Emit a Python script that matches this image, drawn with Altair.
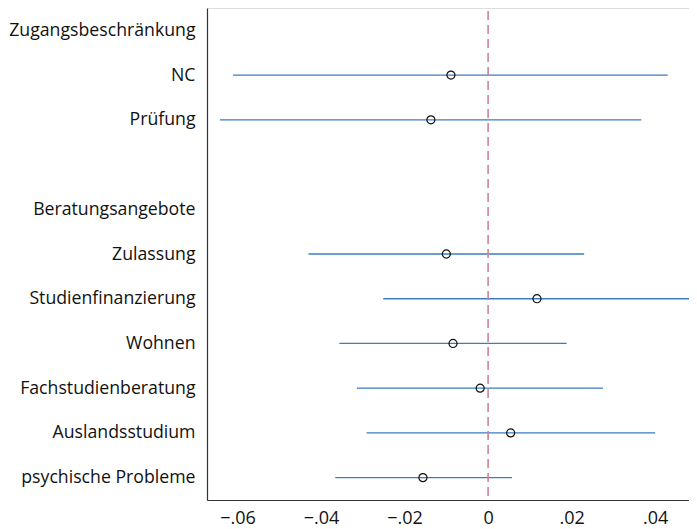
import altair as alt
import pandas as pd

categories = ["Zugangsbeschränkung", "NC", "Prüfung", " ", "Beratungsangebote",
              "Zulassung", "Studienfinanzierung", "Wohnen", "Fachstudienberatung",
              "Auslandsstudium", "psychische Probleme"]

coef_labels = ["NC", "Prüfung", "Zulassung", "Studienfinanzierung", "Wohnen",
               "Fachstudienberatung", "Auslandsstudium", "psychische Probleme"]
estimates = [-0.0089, -0.0137, -0.0100, 0.0117, -0.0084, -0.0019, 0.0054, -0.0156]
ci_low = [-0.0611, -0.0642, -0.0430, -0.0251, -0.0356, -0.0314, -0.0291, -0.0366]
ci_high = [0.0430, 0.0367, 0.0230, 0.0486, 0.0188, 0.0275, 0.0400, 0.0057]

x_ticks = [-0.06, -0.04, -0.02, 0, 0.02, 0.04]

df = pd.DataFrame({"label": coef_labels, "est": estimates, "lo": ci_low, "hi": ci_high})
hdr = pd.DataFrame({"label": categories})

FONT = "Open Sans"
label_expr = ("datum.value == 0 ? '0' : (datum.value < 0 ? '−' : '') + "
              "replace(format(abs(datum.value), '.2f'), /^0/, '')")

xscale = alt.Scale(domain=[-0.0673, 0.0481], nice=False, zero=False)
yscale = alt.Scale(domain=categories, type="point", padding=0.5)

xaxis = alt.Axis(values=x_ticks, labelExpr=label_expr, ticks=False, grid=False,
                 domainColor="#333333", domainWidth=1.2, labelFontSize=18,
                 labelFont=FONT, labelColor="#111111", labelPadding=9, title=None)
yaxis = alt.Axis(ticks=False, grid=False, domainColor="#333333", domainWidth=1.2,
                 labelFontSize=17.7, labelFont=FONT, labelColor="#111111",
                 labelPadding=12, title=None, labelLimit=300)

base_y = alt.Y("label:N", scale=yscale, axis=yaxis, sort=categories)

axis_layer = alt.Chart(hdr).mark_point(opacity=0).encode(
    y=base_y,
    x=alt.value(0),
)

rules = alt.Chart(df).mark_rule(color="#3b7dbf", strokeWidth=1.3, clip=False).encode(
    x=alt.X("lo:Q", scale=xscale, axis=xaxis),
    x2="hi:Q",
    y=base_y,
)

zero = alt.Chart(pd.DataFrame({"z": [0]})).mark_rule(
    color="#cf8290", strokeDash=[9, 5], strokeWidth=1.6
).encode(
    x=alt.X("z:Q", scale=xscale),
    y=alt.value(3),
    y2=alt.value(492),
)

points = alt.Chart(df).mark_point(
    shape="circle", filled=False, color="#111111", size=65, strokeWidth=1.2, opacity=1
).encode(
    x=alt.X("est:Q", scale=xscale),
    y=base_y,
)

chart = alt.layer(axis_layer, rules, zero, points).properties(
    width=482, height=492,
    autosize=alt.AutoSizeParams(type="none"),
    padding={"left": 199, "top": 0, "right": 0, "bottom": 29},
).configure_view(stroke=None).configure(background="white")

chart.save("out.html", embed_options={"renderer": "svg", "actions": False})
